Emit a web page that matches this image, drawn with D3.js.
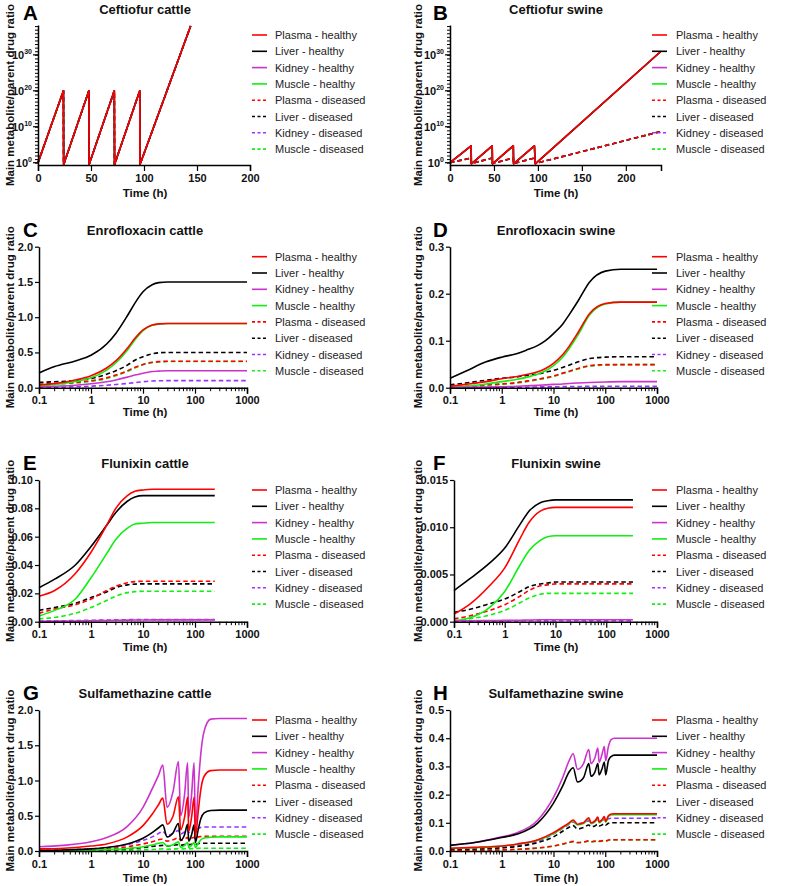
<!DOCTYPE html>
<html><head><meta charset="utf-8">
<script src="https://cdn.jsdelivr.net/npm/d3@7"></script>
<style>
body{margin:0;background:#fff}
svg{display:block}
text{font-family:"Liberation Sans",Arial,Helvetica,sans-serif}
</style>
</head><body>
<svg id="chart" width="787" height="886"></svg>
<script>
// ---------------- DATA ----------------
const seriesLabels = ["Plasma - healthy","Liver - healthy","Kidney - healthy","Muscle - healthy",
  "Plasma - diseased","Liver - diseased","Kidney - diseased","Muscle - diseased"];

// A: Ceftiofur cattle (all eight series overlap)
const ceftCattleTime = [0,24,24.2,48,48.2,72,72.2,96,96.2,144];
const ceftCattleRatio = [1,1e20,0.3,1e20,0.3,1e20,0.3,1e20,0.3,1e38];

// B: Ceftiofur swine
const ceftSwineTime = [0,24,24.3,48,48.3,72,72.3,96,97,240];
const ceftSwineHealthy = [1,5e4,0.5,5e4,0.5,5e4,0.5,5e4,0.5,1e31];
const ceftSwineDiseased = [1,20,0.6,20,0.6,20,0.6,20,0.6,5e8];

// C/D: Enrofloxacin
const enroTime = [0.1,0.2,0.5,1,2,3,5,7,10,15,20,30,50,100,200,1000];
const enroCattle = [
  [0.04,0.06,0.11,0.17,0.28,0.38,0.56,0.70,0.82,0.89,0.905,0.91,0.91,0.91,0.91,0.91],
  [0.21,0.30,0.38,0.46,0.62,0.77,1.02,1.20,1.36,1.46,1.49,1.50,1.50,1.50,1.50,1.50],
  [0.01,0.02,0.035,0.055,0.085,0.11,0.15,0.18,0.205,0.23,0.235,0.24,0.24,0.24,0.24,0.24],
  [0.025,0.045,0.09,0.14,0.25,0.35,0.53,0.68,0.81,0.885,0.90,0.91,0.91,0.91,0.91,0.91],
  [0.05,0.06,0.075,0.10,0.14,0.18,0.24,0.29,0.33,0.36,0.37,0.375,0.375,0.375,0.375,0.375],
  [0.075,0.085,0.10,0.13,0.19,0.24,0.32,0.39,0.44,0.48,0.495,0.50,0.50,0.50,0.50,0.50],
  [0.005,0.008,0.014,0.022,0.035,0.045,0.06,0.072,0.085,0.095,0.098,0.10,0.10,0.10,0.10,0.10],
  [0.04,0.05,0.065,0.09,0.13,0.17,0.23,0.28,0.325,0.355,0.365,0.372,0.372,0.372,0.372,0.372]
];
const enroSwine = [
  [0.003,0.007,0.013,0.019,0.024,0.028,0.034,0.041,0.052,0.070,0.088,0.118,0.158,0.179,0.182,0.182],
  [0.020,0.035,0.055,0.065,0.073,0.080,0.090,0.100,0.115,0.135,0.155,0.185,0.225,0.248,0.252,0.252],
  [0.0005,0.001,0.0015,0.002,0.003,0.004,0.005,0.006,0.007,0.008,0.009,0.010,0.011,0.012,0.013,0.013],
  [0.001,0.003,0.008,0.013,0.018,0.022,0.029,0.036,0.047,0.065,0.083,0.113,0.155,0.178,0.182,0.182],
  [0.002,0.003,0.006,0.008,0.011,0.014,0.018,0.021,0.025,0.031,0.035,0.041,0.047,0.049,0.049,0.049],
  [0.006,0.010,0.016,0.020,0.023,0.026,0.029,0.033,0.037,0.043,0.048,0.055,0.062,0.065,0.066,0.066],
  [0.0003,0.0005,0.0008,0.001,0.0012,0.0014,0.0016,0.0018,0.002,0.0022,0.0024,0.0026,0.0028,0.003,0.003,0.003],
  [0.001,0.002,0.005,0.007,0.010,0.013,0.017,0.020,0.024,0.030,0.034,0.040,0.046,0.048,0.049,0.049]
];

// E: Flunixin cattle
const fluCattleTime = [0.1,0.2,0.5,1,2,3,5,7,10,15,20,30,50,100,240];
const fluCattle = [
  [0.018,0.022,0.034,0.049,0.068,0.080,0.089,0.092,0.093,0.0935,0.0935,0.0935,0.0935,0.0935,0.0935],
  [0.024,0.030,0.040,0.053,0.068,0.077,0.085,0.088,0.089,0.089,0.089,0.089,0.089,0.089,0.089],
  [0.0003,0.0004,0.0005,0.0007,0.0009,0.001,0.0011,0.0012,0.0012,0.0013,0.0013,0.0013,0.0013,0.0013,0.0013],
  [0.004,0.008,0.016,0.031,0.048,0.058,0.066,0.069,0.0695,0.070,0.070,0.070,0.070,0.070,0.070],
  [0.006,0.009,0.012,0.016,0.022,0.025,0.0275,0.0283,0.0285,0.0285,0.0285,0.0285,0.0285,0.0285,0.0285],
  [0.008,0.010,0.013,0.017,0.021,0.024,0.026,0.0265,0.0267,0.0267,0.0267,0.0267,0.0267,0.0267,0.0267],
  [0.0005,0.0006,0.0008,0.001,0.0012,0.0013,0.0014,0.0015,0.0015,0.0015,0.0015,0.0015,0.0015,0.0015,0.0015],
  [0.002,0.003,0.006,0.010,0.015,0.018,0.0205,0.0212,0.0215,0.0215,0.0215,0.0215,0.0215,0.0215,0.0215]
];

// F: Flunixin swine
const fluSwineTime = [0.1,0.2,0.5,1,2,3,5,7,10,15,20,30,50,100,336];
const fluSwine = [
  [0.0008,0.0018,0.0038,0.0057,0.0088,0.0105,0.0117,0.0120,0.0121,0.0121,0.0121,0.0121,0.0121,0.0121,0.0121],
  [0.0033,0.0045,0.0062,0.0078,0.0103,0.0117,0.0126,0.0128,0.0129,0.0129,0.0129,0.0129,0.0129,0.0129,0.0129],
  [0.0001,0.0001,0.00012,0.00014,0.00016,0.00018,0.0002,0.0002,0.0002,0.0002,0.0002,0.0002,0.0002,0.0002,0.0002],
  [0.0001,0.0004,0.0015,0.0032,0.0060,0.0075,0.0086,0.0090,0.0091,0.0091,0.0091,0.0091,0.0091,0.0091,0.0091],
  [0.0003,0.0006,0.0012,0.0018,0.0027,0.0033,0.0038,0.0039,0.0040,0.0040,0.0040,0.0040,0.0040,0.0040,0.0040],
  [0.0010,0.0013,0.0019,0.0024,0.0032,0.0037,0.0040,0.0041,0.0042,0.0042,0.0042,0.0042,0.0042,0.0042,0.0042],
  [0.00005,0.00006,0.00007,0.00008,0.00009,0.0001,0.0001,0.0001,0.0001,0.0001,0.0001,0.0001,0.0001,0.0001,0.0001],
  [0.0001,0.0003,0.0007,0.0012,0.0020,0.0025,0.0029,0.0030,0.0030,0.0030,0.0030,0.0030,0.0030,0.0030,0.0030]
];

// G/H: Sulfamethazine
const sulfaTime = [0.1,0.3,1,2,5,10,15,20,24,29,38,48,53,63,72,76,86,96,102,115,130,150,200,300,1000];
const sulfaCattle = [
  [0.03,0.04,0.07,0.10,0.20,0.36,0.52,0.66,0.75,0.38,0.50,0.77,0.30,0.48,0.76,0.28,0.48,0.76,0.20,0.55,0.88,1.06,1.14,1.15,1.15],
  [0.01,0.015,0.03,0.05,0.10,0.18,0.26,0.33,0.37,0.20,0.26,0.39,0.15,0.23,0.38,0.14,0.23,0.37,0.12,0.30,0.46,0.54,0.575,0.58,0.58],
  [0.06,0.08,0.13,0.19,0.35,0.62,0.88,1.08,1.22,0.62,0.85,1.27,0.50,0.80,1.25,0.48,0.80,1.25,0.32,0.90,1.40,1.70,1.87,1.88,1.88],
  [0.005,0.007,0.012,0.02,0.035,0.06,0.085,0.11,0.12,0.07,0.09,0.13,0.05,0.08,0.12,0.05,0.08,0.12,0.05,0.11,0.16,0.185,0.195,0.20,0.20],
  [0.005,0.008,0.02,0.03,0.06,0.10,0.13,0.16,0.17,0.14,0.16,0.185,0.15,0.17,0.19,0.16,0.18,0.195,0.17,0.20,0.205,0.21,0.21,0.21,0.21],
  [0.002,0.004,0.01,0.015,0.03,0.05,0.065,0.075,0.08,0.07,0.08,0.09,0.08,0.09,0.10,0.09,0.095,0.10,0.095,0.105,0.11,0.11,0.11,0.11,0.11],
  [0.01,0.015,0.03,0.045,0.09,0.15,0.20,0.25,0.28,0.22,0.25,0.29,0.24,0.27,0.30,0.26,0.29,0.31,0.28,0.32,0.335,0.34,0.34,0.34,0.34],
  [0.001,0.002,0.004,0.006,0.01,0.017,0.022,0.027,0.03,0.025,0.028,0.033,0.028,0.031,0.035,0.03,0.033,0.036,0.033,0.038,0.04,0.04,0.04,0.04,0.04]
];
const sulfaSwine = [
  [0.01,0.013,0.018,0.025,0.04,0.065,0.085,0.10,0.11,0.095,0.10,0.118,0.10,0.106,0.12,0.103,0.11,0.122,0.105,0.125,0.131,0.132,0.132,0.132,0.132],
  [0.02,0.03,0.048,0.06,0.10,0.17,0.23,0.28,0.295,0.245,0.26,0.31,0.265,0.28,0.31,0.27,0.29,0.315,0.27,0.32,0.335,0.34,0.34,0.34,0.34],
  [0.02,0.03,0.05,0.065,0.11,0.19,0.26,0.32,0.345,0.29,0.31,0.36,0.31,0.33,0.365,0.315,0.34,0.37,0.32,0.37,0.395,0.40,0.40,0.40,0.40],
  [0.009,0.012,0.017,0.024,0.038,0.062,0.082,0.097,0.107,0.092,0.097,0.115,0.097,0.103,0.117,0.10,0.107,0.119,0.102,0.122,0.128,0.129,0.129,0.129,0.129],
  [0.001,0.002,0.004,0.006,0.011,0.018,0.025,0.031,0.034,0.03,0.032,0.036,0.033,0.035,0.037,0.035,0.036,0.038,0.036,0.039,0.04,0.04,0.04,0.04,0.04],
  [0.004,0.006,0.011,0.016,0.03,0.05,0.07,0.084,0.09,0.078,0.083,0.092,0.086,0.089,0.095,0.089,0.092,0.097,0.092,0.098,0.10,0.10,0.10,0.10,0.10],
  [0.005,0.008,0.013,0.02,0.035,0.06,0.08,0.095,0.103,0.097,0.10,0.107,0.103,0.106,0.11,0.106,0.109,0.112,0.109,0.114,0.116,0.116,0.116,0.116,0.116],
  [0.001,0.0018,0.0038,0.0055,0.01,0.017,0.024,0.03,0.033,0.029,0.031,0.035,0.032,0.034,0.036,0.034,0.035,0.037,0.035,0.038,0.039,0.039,0.039,0.039,0.039]
];

const linTicksA = [0,50,100,150,200];
const logTimeTicks = [0.1,1,10,100,1000];
const logRatioMajor = [0,10,20,30];

// ---------------- STYLE ----------------
const colors = ["#ff0000","#000000","#cc33cc","#11ee11","#ff0000","#000000","#9933ff","#11ee11"];
const dashed = [false,false,false,false,true,true,true,true];
const FONT = '"Liberation Sans",Arial,Helvetica,sans-serif';

const svg = d3.select("#chart");

const panels = [
  {L:"A", title:"Ceftiofur cattle", col:0, x0:38, x1:250, y0:25, y1:165, xLog:false, xDom:[0,200],
   yLog:true, yDom:[Math.pow(10,-0.64),Math.pow(10,38.3)], smooth:false,
   time:ceftCattleTime, vals:[ceftCattleRatio,ceftCattleRatio,ceftCattleRatio,ceftCattleRatio,ceftCattleRatio,ceftCattleRatio,ceftCattleRatio,ceftCattleRatio],
   titleY:14, letterY:20, xlabY:196.5},
  {L:"B", title:"Ceftiofur swine", col:1, x0:450, x1:661, y0:25, y1:165, xLog:false, xDom:[0,240],
   yLog:true, yDom:[Math.pow(10,-0.64),Math.pow(10,38.3)], smooth:false,
   time:ceftSwineTime, vals:[ceftSwineHealthy,ceftSwineHealthy,ceftSwineHealthy,ceftSwineHealthy,ceftSwineDiseased,ceftSwineDiseased,ceftSwineDiseased,ceftSwineDiseased],
   titleY:14, letterY:20, xlabY:196.5},
  {L:"C", title:"Enrofloxacin cattle", col:0, x0:39, x1:247, y0:246.7, y1:387.7, xLog:true,
   yDom:[0,2], yTicks:[0,0.5,1,1.5,2], yFmt:d3.format(".1f"), smooth:true,
   time:enroTime, vals:enroCattle, titleY:235, letterY:236.5, xlabY:415.5},
  {L:"D", title:"Enrofloxacin swine", col:1, x0:450, x1:657, y0:246.7, y1:387.7, xLog:true,
   yDom:[0,0.3], yTicks:[0,0.1,0.2,0.3], yFmt:d3.format(".1f"), smooth:true,
   time:enroTime, vals:enroSwine, titleY:235, letterY:236.5, xlabY:415.5},
  {L:"E", title:"Flunixin cattle", col:0, x0:39, x1:247, y0:480, y1:621.7, xLog:true,
   yDom:[0,0.1], yTicks:[0,0.02,0.04,0.06,0.08,0.1], yFmt:d3.format(".2f"), smooth:true,
   time:fluCattleTime, vals:fluCattle, titleY:468, letterY:470, xlabY:651},
  {L:"F", title:"Flunixin swine", col:1, x0:454, x1:657, y0:480, y1:621.7, xLog:true,
   yDom:[0,0.015], yTicks:[0,0.005,0.01,0.015], yFmt:d3.format(".3f"), smooth:true,
   time:fluSwineTime, vals:fluSwine, titleY:468, letterY:470, xlabY:651},
  {L:"G", title:"Sulfamethazine cattle", col:0, x0:39, x1:247, y0:710, y1:851, xLog:true,
   yDom:[0,2], yTicks:[0,0.5,1,1.5,2], yFmt:d3.format(".1f"), smooth:true,
   time:sulfaTime, vals:sulfaCattle, titleY:698, letterY:700, xlabY:881.5},
  {L:"H", title:"Sulfamethazine swine", col:1, x0:450, x1:657, y0:710, y1:851, xLog:true,
   yDom:[0,0.5], yTicks:[0,0.1,0.2,0.3,0.4,0.5], yFmt:d3.format(".1f"), smooth:true,
   time:sulfaTime, vals:sulfaSwine, titleY:698, letterY:700, xlabY:881.5}
];

const colInfo = [
  {titleX:145, letterX:23, ylabX:10, legLine:252, legText:275, xlabX:145},
  {titleX:556, letterX:433, ylabX:418, legLine:652, legText:676, xlabX:556}
];

function styleAxis(g){
  g.select(".domain").attr("stroke","#000").attr("stroke-width",1.5);
  g.selectAll(".tick line").attr("stroke","#000").attr("stroke-width",1.2);
  g.selectAll(".tick text").attr("font-family",FONT).attr("font-weight","bold")
    .attr("font-size","11px").attr("fill","#111");
}

panels.forEach(p => {
  const ci = colInfo[p.col];
  const g = svg.append("g");
  const x = p.xLog ? d3.scaleLog().domain([0.1,1000]).range([p.x0,p.x1])
                   : d3.scaleLinear().domain(p.xDom).range([p.x0,p.x1]);
  const y = p.yLog ? d3.scaleLog().domain(p.yDom).range([p.y1,p.y0])
                   : d3.scaleLinear().domain(p.yDom).range([p.y1,p.y0]);

  const clipId = "clip"+p.L;
  svg.append("clipPath").attr("id",clipId).append("rect")
    .attr("x",p.x0-2).attr("y",p.y0-1).attr("width",p.x1-p.x0+6).attr("height",p.y1-p.y0+2);

  const line = d3.line().x(d=>x(d[0])).y(d=>y(d[1]))
    .curve(p.smooth ? d3.curveMonotoneX : d3.curveLinear);
  const lg = g.append("g").attr("clip-path",`url(#${clipId})`);
  for (let i=7;i>=0;i--){
    const data = p.time.map((t,j)=>[t,p.vals[i][j]]);
    lg.append("path").attr("d",line(data)).attr("fill","none")
      .attr("stroke",colors[i]).attr("stroke-width",1.6)
      .attr("stroke-linejoin","round")
      .attr("stroke-dasharray",dashed[i]?"4.5,3":null);
  }

  // X axis
  const xa = d3.axisBottom(x).tickSizeOuter(0).tickSize(6).tickPadding(3);
  if (p.xLog) xa.tickValues(logTimeTicks).tickFormat(d=>String(d));
  else xa.tickValues(linTicksA).tickFormat(d3.format("d"));
  const gx = g.append("g").attr("transform",`translate(0,${p.y1})`).call(xa);
  styleAxis(gx);
  if (p.xLog){
    const minors=[];
    for (let e=-1;e<3;e++) for (let m=2;m<=9;m++) minors.push(m*Math.pow(10,e));
    gx.selectAll("line.minor").data(minors).join("line").attr("class","minor")
      .attr("x1",d=>x(d)).attr("x2",d=>x(d)).attr("y1",0).attr("y2",3.5)
      .attr("stroke","#000").attr("stroke-width",1);
  }

  // Y axis
  if (p.yLog){
    const decades = d3.range(0,39).map(k=>Math.pow(10,k));
    const ya = d3.axisLeft(y).tickValues(decades).tickFormat("").tickSize(3).tickSizeOuter(0);
    const gy = g.append("g").attr("transform",`translate(${p.x0},0)`).call(ya);
    styleAxis(gy);
    gy.selectAll(".tick line").attr("stroke-width",1);
    logRatioMajor.forEach(k=>{
      const yy = y(Math.pow(10,k));
      gy.append("line").attr("x1",-5).attr("x2",0).attr("y1",yy).attr("y2",yy)
        .attr("stroke","#000").attr("stroke-width",1.2);
      const t = gy.append("text").attr("x",-6).attr("y",yy+4).attr("text-anchor","end")
        .attr("font-family",FONT).attr("font-weight","bold").attr("font-size","11px").attr("fill","#111");
      t.append("tspan").text("10");
      t.append("tspan").attr("dy",-4.5).attr("font-size","7px").text(String(k));
    });
  } else {
    const ya = d3.axisLeft(y).tickValues(p.yTicks).tickFormat(p.yFmt).tickSize(4).tickPadding(2).tickSizeOuter(0);
    const gy = g.append("g").attr("transform",`translate(${p.x0},0)`).call(ya);
    styleAxis(gy);
  }

  // Title, letter, axis labels
  g.append("text").attr("x",ci.titleX).attr("y",p.titleY).attr("text-anchor","middle")
    .attr("font-family",FONT).attr("font-weight","bold").attr("font-size","13px").attr("fill","#111")
    .text(p.title);
  g.append("text").attr("x",ci.letterX).attr("y",p.letterY)
    .attr("font-family",FONT).attr("font-weight","bold").attr("font-size","20.5px").attr("fill","#000")
    .text(p.L);
  g.append("text").attr("x",ci.xlabX).attr("y",p.xlabY).attr("text-anchor","middle")
    .attr("font-family",FONT).attr("font-weight","bold").attr("font-size","11.5px").attr("fill","#111")
    .text("Time (h)");
  const yc = (p.y0+p.y1)/2;
  g.append("text").attr("transform",`translate(${ci.ylabX},${yc}) rotate(-90)`)
    .attr("text-anchor","middle").attr("dominant-baseline","central")
    .attr("font-family",FONT).attr("font-weight","bold").attr("font-size","11.5px").attr("fill","#111")
    .text("Main metabolite/parent drug ratio");

  // Legend
  const leg = g.append("g");
  seriesLabels.forEach((name,i)=>{
    const yy = p.y0 + 10 + i*16.3;
    leg.append("line").attr("x1",ci.legLine).attr("x2",ci.legLine+15).attr("y1",yy).attr("y2",yy)
      .attr("stroke",colors[i]).attr("stroke-width",1.6)
      .attr("stroke-dasharray",dashed[i]?"3,2.5":null);
    leg.append("text").attr("x",ci.legText).attr("y",yy).attr("dominant-baseline","central")
      .attr("font-family",FONT).attr("font-size","11px").attr("fill","#222").text(name);
  });
});
</script>
</body></html>
